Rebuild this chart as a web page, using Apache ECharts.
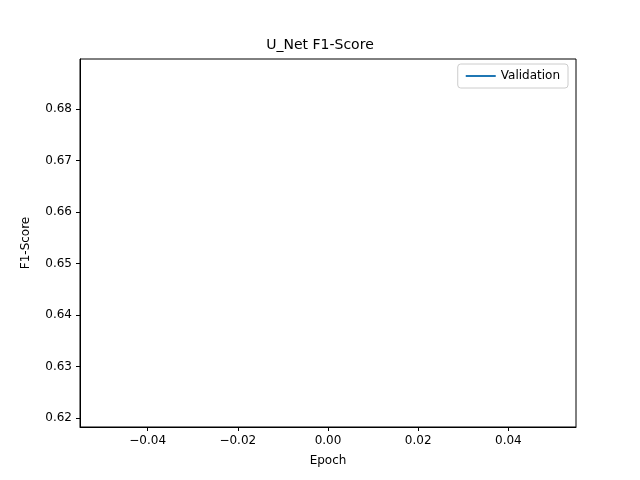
<!DOCTYPE html>
<html>
<head>
<meta charset="utf-8">
<script src="https://cdn.jsdelivr.net/npm/echarts@6/dist/echarts.min.js"></script>
<style>body{margin:0}#main{width:640px;height:480px}</style>
</head>
<body>
<div id="main"></div>
<script>
var epochs = [0];
var validation = [0.654];
var xTicks = [-0.04, -0.02, 0, 0.02, 0.04];
var yTicks = [0.62, 0.63, 0.64, 0.65, 0.66, 0.67, 0.68, 0.69];

var chart = echarts.init(document.getElementById('main'));
var font = 'DejaVu Sans';
chart.setOption({
  animation: false,
  textStyle: {fontFamily: font},
  title: {text: 'U_Net F1-Score', left: 'center', top: 33,
    textStyle: {fontFamily: font, fontSize: 14, fontWeight: 'normal', color: '#000'}},
  legend: {
    top: 64, right: 72, orient: 'vertical',
    borderColor: '#ccc', borderWidth: 1, borderRadius: 3, padding: [6, 8],
    itemWidth: 30, itemHeight: 2, icon: 'rect',
    textStyle: {fontFamily: font, fontSize: 12, color: '#000'},
    data: ['Validation']
  },
  grid: {left: 80, right: 64, top: 59, bottom: 53},
  xAxis: {
    type: 'value', min: -0.055, max: 0.055,
    name: 'Epoch', nameLocation: 'middle', nameGap: 28,
    nameTextStyle: {fontFamily: font, fontSize: 12, color: '#000'},
    splitLine: {show: false},
    axisLine: {show: true, onZero: false, lineStyle: {color: '#000'}},
    axisTick: {show: true, customValues: xTicks, length: 4, lineStyle: {color: '#000'}},
    axisLabel: {customValues: xTicks, color: '#000', fontSize: 12,
      formatter: function (v) { return v === 0 ? '0.00' : v.toFixed(2).replace('-', '\u2212'); }}
  },
  yAxis: {
    type: 'value', min: 0.6183, max: 0.6897,
    name: 'F1-Score', nameLocation: 'middle', nameGap: 48,
    nameTextStyle: {fontFamily: font, fontSize: 12, color: '#000'},
    splitLine: {show: false},
    axisLine: {show: true, onZero: false, lineStyle: {color: '#000'}},
    axisTick: {show: true, customValues: yTicks, length: 4, lineStyle: {color: '#000'}},
    axisLabel: {customValues: yTicks, color: '#000', fontSize: 12,
      formatter: function (v) { return v.toFixed(2); }}
  },
  series: [{
    name: 'Validation', type: 'line', showSymbol: false,
    color: '#1f77b4', lineStyle: {width: 1.5},
    data: epochs.map(function (e, i) { return [e, validation[i]]; })
  }]
});
// closing frame lines on top and right
chart.setOption({graphic: [{type: 'rect', shape: {x: 80, y: 59, width: 496, height: 368},
  style: {fill: 'none', stroke: '#000', lineWidth: 1}, silent: true}]});
</script>
</body>
</html>
